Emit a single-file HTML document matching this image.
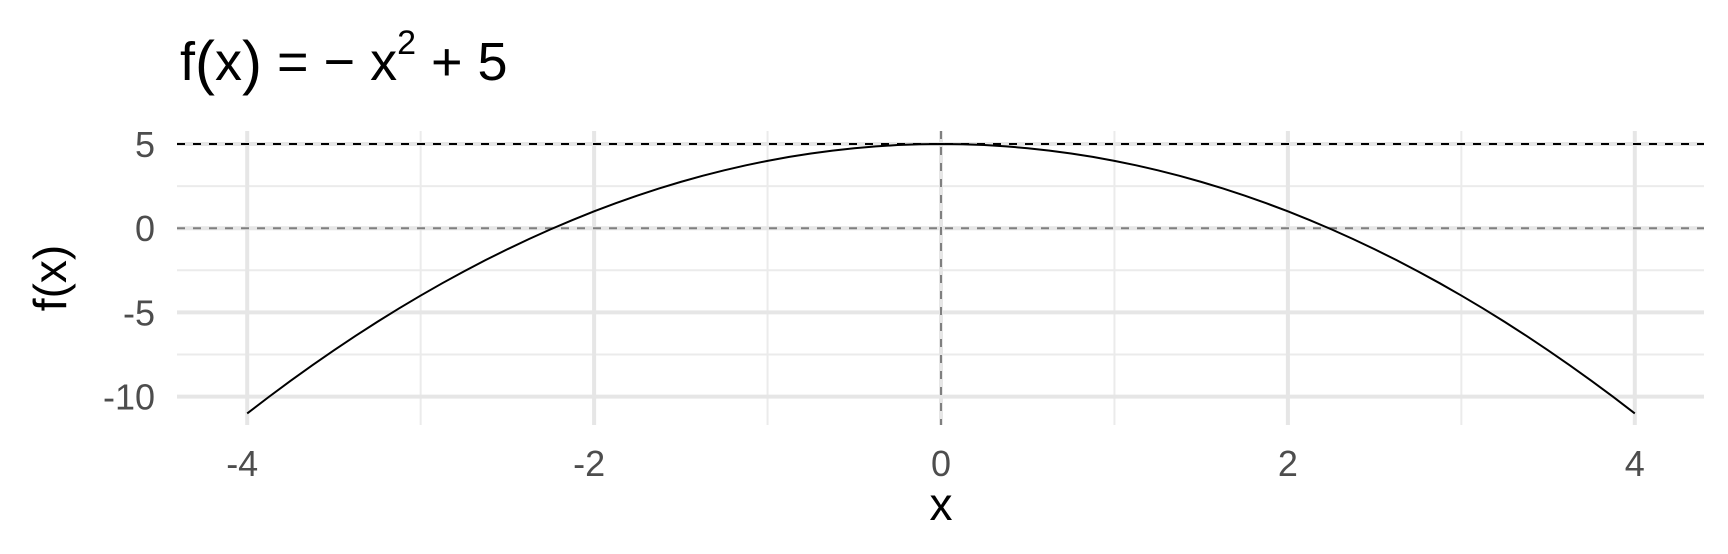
<!DOCTYPE html>
<html><head><meta charset="utf-8"><style>
html,body{margin:0;padding:0;background:#fff;}
svg{display:block;font-family:"Liberation Sans",Arial,sans-serif;}
</style></head><body>
<svg id="chart" width="1728" height="554" viewBox="0 0 1728 554" xmlns="http://www.w3.org/2000/svg">
<text x="180" y="80" font-size="54" fill="#000">f<tspan font-size="60" dy="3">(</tspan><tspan dy="-3">x</tspan><tspan font-size="60" dy="3">)</tspan><tspan dy="-3"> = − x</tspan><tspan font-size="34" dy="-26">2</tspan><tspan dy="26"> + 5</tspan></text>
<g id="grid"></g>
<g id="refs"></g>
<g id="series"></g>
<g id="ticks"></g>
<text x="941" y="520" font-size="46" text-anchor="middle" fill="#000">x</text>
<text transform="translate(66,278) rotate(-90)" font-size="46" text-anchor="middle" fill="#000">f(x)</text>
</svg>
<script>
const xValues = [-4,-3.875,-3.75,-3.625,-3.5,-3.375,-3.25,-3.125,-3,-2.875,-2.75,-2.625,-2.5,-2.375,-2.25,-2.125,-2,-1.875,-1.75,-1.625,-1.5,-1.375,-1.25,-1.125,-1,-0.875,-0.75,-0.625,-0.5,-0.375,-0.25,-0.125,0,0.125,0.25,0.375,0.5,0.625,0.75,0.875,1,1.125,1.25,1.375,1.5,1.625,1.75,1.875,2,2.125,2.25,2.375,2.5,2.625,2.75,2.875,3,3.125,3.25,3.375,3.5,3.625,3.75,3.875,4];
const yValues = [-11,-10.015625,-9.0625,-8.140625,-7.25,-6.390625,-5.5625,-4.765625,-4,-3.265625,-2.5625,-1.890625,-1.25,-0.640625,-0.0625,0.484375,1,1.484375,1.9375,2.359375,2.75,3.109375,3.4375,3.734375,4,4.234375,4.4375,4.609375,4.75,4.859375,4.9375,4.984375,5,4.984375,4.9375,4.859375,4.75,4.609375,4.4375,4.234375,4,3.734375,3.4375,3.109375,2.75,2.359375,1.9375,1.484375,1,0.484375,-0.0625,-0.640625,-1.25,-1.890625,-2.5625,-3.265625,-4,-4.765625,-5.5625,-6.390625,-7.25,-8.140625,-9.0625,-10.015625,-11];
const xTicks = [-4,-2,0,2,4];
const xMinor = [-3,-1,1,3];
const yTicks = [5,0,-5,-10];
const yMinor = [2.5,-2.5,-7.5];
const hLines = [5,0];
const vLines = [0];

const NS="http://www.w3.org/2000/svg";
const L=177,R=1704,T=131,B=425;
function sx(v){return 941+v*173.45;}
function sy(v){return 228.2-v*16.84;}
function mk(tag,attrs,parent){const e=document.createElementNS(NS,tag);for(const k in attrs)e.setAttribute(k,attrs[k]);parent.appendChild(e);return e;}
const grid=document.getElementById('grid'),refs=document.getElementById('refs'),series=document.getElementById('series'),ticks=document.getElementById('ticks');
yMinor.forEach(v=>{const e=mk('line',{x1:L,x2:R,y1:sy(v),y2:sy(v),stroke:'#ebebeb','stroke-width':2},grid);

});
xMinor.forEach(v=>{const e=mk('line',{x1:sx(v),x2:sx(v),y1:T,y2:B,stroke:'#ebebeb','stroke-width':2},grid);

});
yTicks.forEach(v=>{const e=mk('line',{x1:L,x2:R,y1:sy(v),y2:sy(v),stroke:'#e6e6e6','stroke-width':4},grid);


const t=mk('text',{x:155,y:sy(v)+13,'font-size':36,'text-anchor':'end',fill:'#4d4d4d'},ticks);t.textContent=v;

});
xTicks.forEach(v=>{const e=mk('line',{x1:sx(v),x2:sx(v),y1:T,y2:B,stroke:'#e6e6e6','stroke-width':4},grid);


const t=mk('text',{x:sx(v)-(v<0?5:0),y:476,'font-size':36,'text-anchor':'middle',fill:'#4d4d4d'},ticks);t.textContent=v;

});
hLines.forEach(v=>{const e=mk('line',{x1:L,x2:R,y1:sy(v),y2:sy(v),stroke:v===0?'#7f7f7f':'#000','stroke-width':2,'stroke-dasharray':'8,8'},refs);

});
vLines.forEach(v=>{const e=mk('line',{x1:sx(v),x2:sx(v),y1:T,y2:B,stroke:'#7f7f7f','stroke-width':2,'stroke-dasharray':'8,8'},refs);

});
const d=xValues.map((x,i)=>(i?'L':'M')+sx(x).toFixed(2)+','+sy(yValues[i]).toFixed(2)).join(' ');
const p=mk('path',{d:d,fill:'none',stroke:'#000','stroke-width':2,'stroke-linejoin':'round'},series);


</script>
</body></html>
